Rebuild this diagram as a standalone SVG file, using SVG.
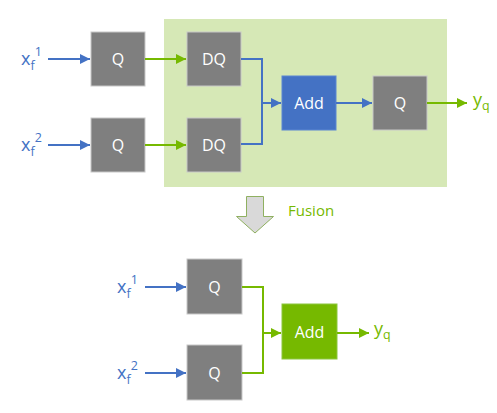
<svg xmlns="http://www.w3.org/2000/svg" width="497" height="413" viewBox="0 0 497 413">
<style>
.q{fill:#7f7f7f;stroke:#c8c8c8;stroke-width:1}
.t{font-family:"Open Sans","Liberation Sans",sans-serif;font-size:16px;fill:#ffffff;text-anchor:middle}
.lb{font-family:"Open Sans","Liberation Sans",sans-serif;font-size:18px;fill:#4472c4}
.lg{font-family:"Open Sans","Liberation Sans",sans-serif;font-size:18px;fill:#76b900}
.sm{font-size:12.5px}
.bl{fill:none;stroke:#4472c4;stroke-width:2}
.gl{fill:none;stroke:#76b900;stroke-width:2}
</style>
<defs>
<marker id="ab" viewBox="0 0 10 10" refX="10" refY="5" markerWidth="5" markerHeight="5" orient="auto" markerUnits="strokeWidth"><path d="M0,0L10,5L0,10z" fill="#4472c4"/></marker>
<marker id="ag" viewBox="0 0 10 10" refX="10" refY="5" markerWidth="5" markerHeight="5" orient="auto" markerUnits="strokeWidth"><path d="M0,0L10,5L0,10z" fill="#76b900"/></marker>
</defs>
<rect id="fusion-region" x="164" y="19" width="283" height="168" fill="#d6e8b6"/>
<g id="top-x1"><text class="lb" x="21" y="65">x<tspan class="sm" dy="5">f</tspan><tspan class="sm" dy="-14">1</tspan></text></g>
<g id="top-x2"><text class="lb" x="21" y="151">x<tspan class="sm" dy="5">f</tspan><tspan class="sm" dy="-14">2</tspan></text></g>
<g id="top-q1"><rect class="q" x="91" y="32" width="54" height="54"/><text class="t" x="118" y="65">Q</text></g>
<g id="top-q2"><rect class="q" x="91" y="118" width="54" height="54"/><text class="t" x="118" y="151">Q</text></g>
<g id="top-dq1"><rect class="q" x="187" y="32" width="54" height="54"/><text class="t" x="214" y="65">DQ</text></g>
<g id="top-dq2"><rect class="q" x="187" y="118" width="54" height="54"/><text class="t" x="214" y="151">DQ</text></g>
<g id="top-add"><rect x="282" y="76" width="54" height="54" fill="#4472c4" stroke="#5a86d2" stroke-width="1"/><text class="t" x="309" y="109">Add</text></g>
<g id="top-q3"><rect class="q" x="373" y="76" width="54" height="54"/><text class="t" x="400" y="109">Q</text></g>
<g id="top-yq"><text class="lg" x="473" y="106">y<tspan class="sm" dy="4">q</tspan></text></g>
<g id="fusion-arrow"><path d="M246.5,196.5H263.5V216.5H273.5L255,233L236.5,216.5H246.5Z" fill="#d9d9d9" stroke="#8fb060" stroke-width="1"/><text x="288" y="216" font-family="Open Sans,Liberation Sans,sans-serif" font-size="15" fill="#76b900">Fusion</text></g>
<g id="bot-x1"><text class="lb" x="117" y="293">x<tspan class="sm" dy="5">f</tspan><tspan class="sm" dy="-14">1</tspan></text></g>
<g id="bot-x2"><text class="lb" x="117" y="379">x<tspan class="sm" dy="5">f</tspan><tspan class="sm" dy="-14">2</tspan></text></g>
<g id="bot-q1"><rect class="q" x="187" y="259" width="55" height="55"/><text class="t" x="214.5" y="292.5">Q</text></g>
<g id="bot-q2"><rect class="q" x="187" y="345" width="55" height="55"/><text class="t" x="214.5" y="378.5">Q</text></g>
<g id="bot-add"><rect x="282" y="304" width="55" height="55" fill="#76b900" stroke="#8cc63f" stroke-width="1"/><text class="t" x="309.5" y="337.5">Add</text></g>
<g id="bot-yq"><text class="lg" x="374" y="335">y<tspan class="sm" dy="4">q</tspan></text></g>
<g id="connectors">
<line class="bl" x1="48" y1="59" x2="90" y2="59" marker-end="url(#ab)"/>
<line class="bl" x1="48" y1="145" x2="90" y2="145" marker-end="url(#ab)"/>
<line class="gl" x1="145" y1="59" x2="186" y2="59" marker-end="url(#ag)"/>
<line class="gl" x1="145" y1="145" x2="186" y2="145" marker-end="url(#ag)"/>
<path class="bl" d="M241,59H262V144H241"/>
<line class="bl" x1="262" y1="103" x2="281" y2="103" marker-end="url(#ab)"/>
<line class="bl" x1="336" y1="103" x2="372" y2="103" marker-end="url(#ab)"/>
<line class="gl" x1="427" y1="103" x2="467" y2="103" marker-end="url(#ag)"/>
<line class="bl" x1="145" y1="287" x2="186" y2="287" marker-end="url(#ab)"/>
<line class="bl" x1="145" y1="373" x2="186" y2="373" marker-end="url(#ab)"/>
<path class="gl" d="M242,287H263V373H242"/>
<line class="gl" x1="263" y1="333" x2="281" y2="333" marker-end="url(#ag)"/>
<line class="gl" x1="337" y1="333" x2="369" y2="333" marker-end="url(#ag)"/>
</g>
</svg>
